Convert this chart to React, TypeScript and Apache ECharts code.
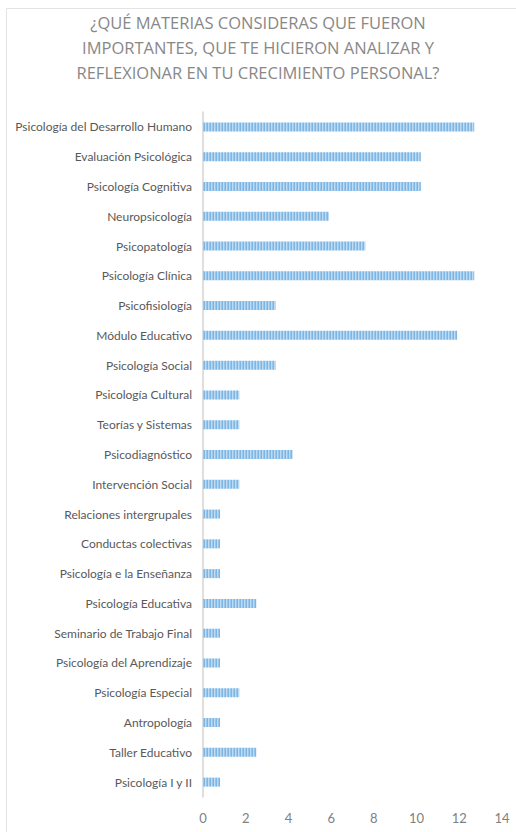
import React, { useEffect, useRef } from "react";
import * as echarts from "echarts";

const titleLines = [
  "¿QUÉ MATERIAS CONSIDERAS QUE FUERON",
  "IMPORTANTES, QUE TE HICIERON ANALIZAR Y",
  "REFLEXIONAR EN TU CRECIMIENTO PERSONAL?",
];

const categories = [
  "Psicología del Desarrollo Humano",
  "Evaluación Psicológica",
  "Psicología Cognitiva",
  "Neuropsicología",
  "Psicopatología",
  "Psicología Clínica",
  "Psicofisiología",
  "Módulo Educativo",
  "Psicología Social",
  "Psicología Cultural",
  "Teorías y Sistemas",
  "Psicodiagnóstico",
  "Intervención Social",
  "Relaciones intergrupales",
  "Conductas colectivas",
  "Psicología e la Enseñanza",
  "Psicología Educativa",
  "Seminario de Trabajo Final",
  "Psicología del Aprendizaje",
  "Psicología Especial",
  "Antropología",
  "Taller Educativo",
  "Psicología I y II",
];

const values = [
  12.7, 10.2, 10.2, 5.9, 7.6, 12.7, 3.4, 11.9, 3.4, 1.7, 1.7, 4.2, 1.7, 0.8,
  0.8, 0.8, 2.5, 0.8, 0.8, 1.7, 0.8, 2.5, 0.8,
];

const xTicks = [0, 2, 4, 6, 8, 10, 12, 14];

function makePattern(): HTMLCanvasElement {
  const c = document.createElement("canvas");
  c.width = 6;
  c.height = 4;
  const ctx = c.getContext("2d")!;
  ctx.fillStyle = "#98c6ec";
  ctx.fillRect(0, 0, 6, 4);
  ctx.fillStyle = "#7db5e3";
  ctx.fillRect(0, 0, 1, 4);
  ctx.fillRect(3, 0, 1, 4);
  ctx.fillStyle = "#bfdbf2";
  ctx.fillRect(1, 0, 1, 4);
  ctx.fillRect(4, 0, 1, 4);
  return c;
}

export default function App() {
  const ref = useRef<HTMLDivElement>(null);
  useEffect(() => {
    if (!ref.current) return;
    const chart = echarts.init(ref.current, null, { renderer: "svg" });
    const font = "Lato, 'Open Sans', sans-serif";
    chart.setOption({
      animation: false,
      backgroundColor: "#ffffff",
      graphic: [
        {
          type: "polyline",
          shape: { points: [[6.5, 832], [6.5, 8.5], [516, 8.5]] },
          style: { stroke: "#e3e3e3", lineWidth: 1, fill: "none" },
          silent: true,
        },
        ...titleLines.map((t, i) => ({
          type: "text",
          x: 258,
          y: 22 + i * 25,
          silent: true,
          style: {
            text: t,
            textAlign: "center",
            textVerticalAlign: "middle",
            fontFamily: "'Open Sans', sans-serif",
            fontSize: 16.5,
            fontWeight: "normal",
            fill: "#888888",
          },
        })),
      ],
      grid: {
        left: 203,
        right: 14,
        top: 112,
        bottom: 35,
        containLabel: false,
        outerBoundsMode: "none",
      },
      xAxis: {
        type: "value",
        min: xTicks[0],
        max: xTicks[xTicks.length - 1],
        interval: 2,
        axisLine: { show: false },
        axisTick: { show: false },
        splitLine: { show: false },
        axisLabel: {
          color: "#808080",
          fontFamily: font,
          fontSize: 13,
          margin: 14,
        },
      },
      yAxis: {
        type: "category",
        data: categories,
        inverse: true,
        axisLine: { show: true, lineStyle: { color: "#d4d4d4", width: 1.5 } },
        axisTick: { show: false },
        axisLabel: {
          color: "#595959",
          fontFamily: font,
          fontSize: 12,
          margin: 11,
        },
      },
      series: [
        {
          type: "bar",
          data: values,
          barWidth: 9,
          itemStyle: {
            color: { image: makePattern(), repeat: "repeat" },
          },
        },
      ],
    });
    return () => chart.dispose();
  }, []);
  return (
    <div
      ref={ref}
      style={{ position: "absolute", left: 0, top: 0, width: 516, height: 832 }}
    />
  );
}
